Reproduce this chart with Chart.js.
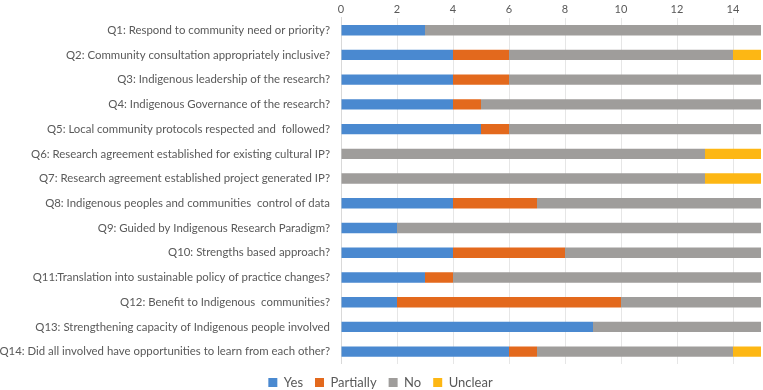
<!DOCTYPE html>
<html>
<head>
<meta charset="utf-8">
<script src="https://cdn.jsdelivr.net/npm/chart.js@4"></script>
<style>
  html, body { margin: 0; padding: 0; background: #fff; }
  #wrap { width: 763px; height: 390px; }
</style>
</head>
<body>
<div id="wrap"><canvas id="surveyChart" width="763" height="390"></canvas></div>
<script>
// survey answers per question
const questions = [
  'Q1: Respond to community need or priority?',
  'Q2: Community consultation appropriately inclusive?',
  'Q3: Indigenous leadership of the research?',
  'Q4: Indigenous Governance of the research?',
  'Q5: Local community protocols respected and  followed?',
  'Q6: Research agreement established for existing cultural IP?',
  'Q7: Research agreement established project generated IP?',
  'Q8: Indigenous peoples and communities  control of data',
  'Q9: Guided by Indigenous Research Paradigm?',
  'Q10: Strengths based approach?',
  'Q11:Translation into sustainable policy of practice changes?',
  'Q12: Benefit to Indigenous  communities?',
  'Q13: Strengthening capacity of Indigenous people involved',
  'Q14: Did all involved have opportunities to learn from each other?'
];
const yes       = [3, 4, 4, 4, 5, 0, 0, 4, 2, 4, 3, 2, 9, 6];
const partially = [0, 2, 2, 1, 1, 0, 0, 3, 0, 4, 1, 8, 0, 1];
const no        = [12, 8, 9, 10, 9, 13, 13, 8, 13, 7, 11, 5, 6, 7];
const unclear   = [0, 1, 0, 0, 0, 2, 2, 0, 0, 0, 0, 0, 0, 1];
const xTicks    = [0, 2, 4, 6, 8, 10, 12, 14];

const font = { family: 'Lato, sans-serif', size: 11.4 };

function series(label, data, color) {
  return {
    label: label,
    data: data,
    backgroundColor: color,
    borderWidth: 0,
    barPercentage: 0.42,
    categoryPercentage: 1
  };
}

// push legend a bit lower without giving it more room
const legendShift = {
  id: 'legendShift',
  beforeInit(chart) {
    const fit = chart.legend.fit;
    chart.legend.fit = function() {
      fit.bind(chart.legend)();
      this.height -= 9;
    };
  }
};

new Chart(document.getElementById('surveyChart'), {
  type: 'bar',
  data: {
    labels: questions,
    datasets: [
      series('Yes', yes, '#4a89d0'),
      series('Partially', partially, '#e3691d'),
      series('No', no, '#9f9d9b'),
      series('Unclear', unclear, '#fdb714')
    ]
  },
  options: {
    indexAxis: 'y',
    responsive: false,
    animation: false,
    layout: { padding: { top: 0, right: 2, bottom: 0, left: 0 } },
    plugins: {
      tooltip: { enabled: false },
      legend: {
        position: 'bottom',
        labels: {
          font: { family: 'Lato, sans-serif', size: 13 },
          color: '#595959',
          boxWidth: 9,
          boxHeight: 9,
          padding: 12
        }
      }
    },
    scales: {
      x: {
        position: 'top',
        stacked: true,
        min: 0,
        max: 15,
        afterBuildTicks: function(scale) {
          scale.ticks = xTicks.map(v => ({ value: v }));
        },
        grid: { color: '#e6e6e6', drawTicks: false },
        border: { display: false },
        ticks: { font: { family: 'Lato, sans-serif', size: 11 }, color: '#595959', padding: 2 }
      },
      y: {
        stacked: true,
        afterFit: function(scale) { scale.width = 341; },
        grid: { display: false, drawTicks: false },
        border: { display: true, color: '#d9d9d9' },
        ticks: { font: font, color: '#595959', padding: 11, autoSkip: false }
      }
    }
  },
  plugins: [legendShift]
});
</script>
</body>
</html>
